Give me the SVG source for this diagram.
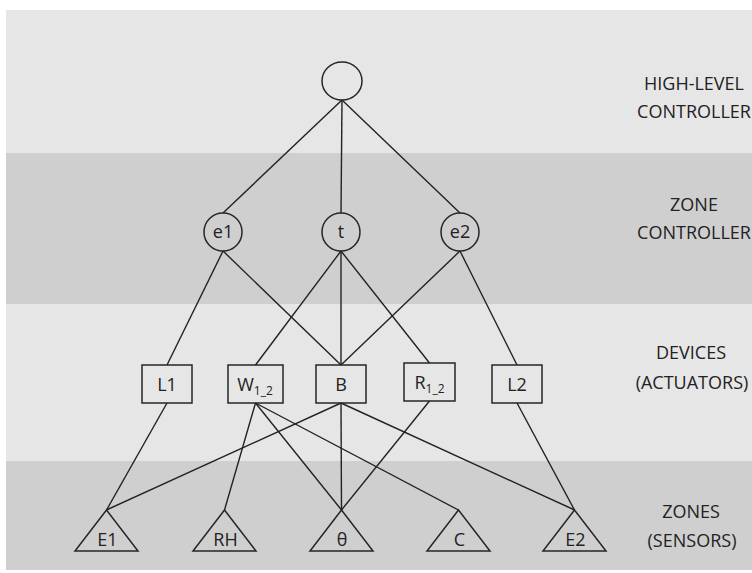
<svg xmlns="http://www.w3.org/2000/svg" width="752" height="573" viewBox="0 0 752 573">
<style>
.bl{fill:#e7e6e7}
.bd{fill:#d0cfd0}
.edge{stroke:#222222;stroke-width:1.4;fill:none}
.node{stroke:#262626;stroke-width:1.5;fill:none}
.nt{font-family:"Open Sans","Liberation Sans",sans-serif;font-size:18px;fill:#222222;text-anchor:middle}
.sub{font-size:12px}
.lab{font-family:"Open Sans","Liberation Sans",sans-serif;font-size:18px;fill:#222222;text-anchor:middle}
</style>
<rect x="0" y="0" width="752" height="573" fill="#ffffff"/>
<g id="bands">
<rect class="bl" x="6" y="10" width="746" height="143"/>
<rect class="bd" x="6" y="153" width="746" height="151"/>
<rect class="bl" x="6" y="304" width="746" height="157"/>
<rect class="bd" x="6" y="461" width="746" height="109"/>
</g>
<g id="connectors">
<line class="edge" x1="342" y1="100" x2="223" y2="213"/>
<line class="edge" x1="342" y1="100" x2="341" y2="213"/>
<line class="edge" x1="342" y1="100" x2="460" y2="213"/>
<line class="edge" x1="223" y1="251" x2="167" y2="365"/>
<line class="edge" x1="223" y1="251" x2="341" y2="365"/>
<line class="edge" x1="341" y1="251" x2="255.5" y2="365"/>
<line class="edge" x1="341" y1="251" x2="341" y2="365"/>
<line class="edge" x1="341" y1="251" x2="429.5" y2="363"/>
<line class="edge" x1="460" y1="251" x2="341" y2="365"/>
<line class="edge" x1="460" y1="251" x2="517" y2="365"/>
<line class="edge" x1="167" y1="403" x2="106.5" y2="510"/>
<line class="edge" x1="255.5" y1="403" x2="224.5" y2="510"/>
<line class="edge" x1="255.5" y1="403" x2="341.5" y2="510"/>
<line class="edge" x1="255.5" y1="403" x2="458.5" y2="510"/>
<line class="edge" x1="341" y1="403" x2="106.5" y2="510"/>
<line class="edge" x1="341" y1="403" x2="341.5" y2="510"/>
<line class="edge" x1="341" y1="403" x2="574.5" y2="510"/>
<line class="edge" x1="429.5" y1="401" x2="341.5" y2="510"/>
<line class="edge" x1="517" y1="403" x2="574.5" y2="510"/>
</g>
<g id="hl"><ellipse class="node" cx="342" cy="81" rx="20" ry="19"/></g>
<g id="e1"><circle class="node" cx="223" cy="232" r="19"/><text class="nt" x="223" y="238">e1</text></g>
<g id="t"><circle class="node" cx="341" cy="232" r="19"/><text class="nt" x="341" y="238">t</text></g>
<g id="e2"><circle class="node" cx="460" cy="232" r="19"/><text class="nt" x="460" y="238">e2</text></g>
<g id="L1"><rect class="node" x="142" y="365" width="50" height="38"/><text class="nt" x="167" y="391">L1</text></g>
<g id="W12"><rect class="node" x="228" y="365" width="55" height="38"/><text class="nt" x="255" y="391">W<tspan class="sub" dy="4">1_2</tspan></text></g>
<g id="B"><rect class="node" x="316" y="365" width="50" height="38"/><text class="nt" x="341" y="391">B</text></g>
<g id="R12"><rect class="node" x="404" y="363" width="51" height="38"/><text class="nt" x="429.5" y="389">R<tspan class="sub" dy="4">1_2</tspan></text></g>
<g id="L2"><rect class="node" x="492" y="365" width="50" height="38"/><text class="nt" x="517" y="391">L2</text></g>
<g id="E1"><polygon class="node" points="106.5,510 75,551 138,551"/><text class="nt" x="107.5" y="546">E1</text></g>
<g id="RH"><polygon class="node" points="224.5,510 193,551 256,551"/><text class="nt" x="225.5" y="546">RH</text></g>
<g id="theta"><polygon class="node" points="341.5,510 310,551 373,551"/><text class="nt" x="342" y="546">θ</text></g>
<g id="C"><polygon class="node" points="458.5,510 427,551 490,551"/><text class="nt" x="459.5" y="546">C</text></g>
<g id="E2"><polygon class="node" points="574.5,510 543,551 606,551"/><text class="nt" x="575.5" y="546">E2</text></g>
<g id="labels">
<text class="lab" x="694" y="90">HIGH-LEVEL</text>
<text class="lab" x="694" y="118">CONTROLLER</text>
<text class="lab" x="694" y="211">ZONE</text>
<text class="lab" x="694" y="239">CONTROLLER</text>
<text class="lab" x="691" y="359">DEVICES</text>
<text class="lab" x="692" y="389">(ACTUATORS)</text>
<text class="lab" x="691" y="518">ZONES</text>
<text class="lab" x="692" y="547">(SENSORS)</text>
</g>
</svg>
